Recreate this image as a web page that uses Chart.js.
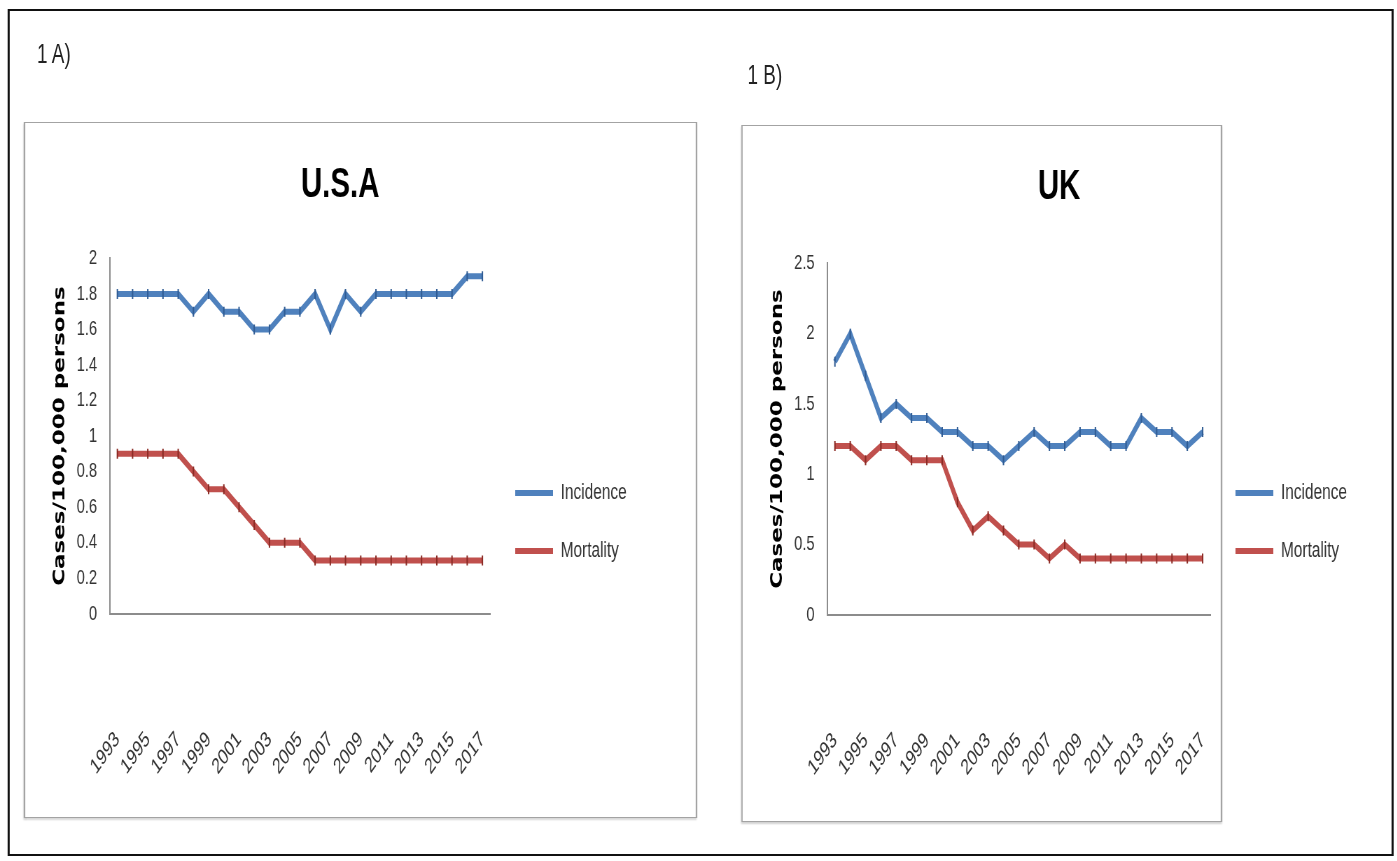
<!DOCTYPE html>
<html>
<head>
<meta charset="utf-8">
<script src="https://cdn.jsdelivr.net/npm/chart.js@4"></script>
<style>
  html, body { margin: 0; padding: 0; background: #fff; overflow: hidden; }
  /* The whole figure is drawn wide and then compressed horizontally. */
  #page { position: absolute; left: 0; top: 0; width: 1996px; height: 861px;
          transform: scaleX(0.7); transform-origin: 0 0; }
  .frame { position: absolute; left: 11px; top: 9px; width: 1974px; height: 843px;
           border-style: solid; border-color: #111; border-width: 2px 3px; }
  .panel { position: absolute; box-sizing: border-box; border-style: solid;
           border-color: #a3a3a3; border-width: 1.5px 2px;
           box-shadow: 0 2px 2px rgba(0,0,0,0.18); }
  #panelA { left: 34px; top: 122px; width: 962px; height: 696px; }
  #panelB { left: 1059px; top: 125px; width: 687px; height: 697px; }
  .tag { position: absolute; font-family: "Liberation Sans Narrow", "Arial Narrow", "Liberation Sans", sans-serif;
         font-size: 27px; line-height: 30px; color: #222; white-space: nowrap; }
  #tagA { left: 53px; top: 39px; }
  #tagB { left: 1068px; top: 60px; }
  canvas { position: absolute; }
  #chartA { left: 34px; top: 122px; }
  #chartB { left: 1059px; top: 125px; }
</style>
</head>
<body>
<div id="page">
  <div class="frame"></div>
  <div class="panel" id="panelA"></div>
  <div class="panel" id="panelB"></div>
  <div class="tag" id="tagA">1 A)</div>
  <div class="tag" id="tagB">1 B)</div>
  <canvas id="chartA" width="906" height="685" style="width:906px;height:685px"></canvas>
  <canvas id="chartB" width="910" height="683" style="width:910px;height:683px"></canvas>
</div>
<script>
// Years on the category axis
const years = ['1993','1994','1995','1996','1997','1998','1999','2000','2001','2002','2003','2004','2005',
               '2006','2007','2008','2009','2010','2011','2012','2013','2014','2015','2016','2017'];

// Cases per 100,000 persons, U.S.A
const usaIncidence = [1.8,1.8,1.8,1.8,1.8,1.7,1.8,1.7,1.7,1.6,1.6,1.7,1.7,1.8,1.6,1.8,1.7,1.8,1.8,1.8,1.8,1.8,1.8,1.9,1.9];
const usaMortality = [0.9,0.9,0.9,0.9,0.9,0.8,0.7,0.7,0.6,0.5,0.4,0.4,0.4,0.3,0.3,0.3,0.3,0.3,0.3,0.3,0.3,0.3,0.3,0.3,0.3];

// Cases per 100,000 persons, UK
const ukIncidence = [1.8,2.0,1.7,1.4,1.5,1.4,1.4,1.3,1.3,1.2,1.2,1.1,1.2,1.3,1.2,1.2,1.3,1.3,1.2,1.2,1.4,1.3,1.3,1.2,1.3];
const ukMortality = [1.2,1.2,1.1,1.2,1.2,1.1,1.1,1.1,0.8,0.6,0.7,0.6,0.5,0.5,0.4,0.5,0.4,0.4,0.4,0.4,0.4,0.4,0.4,0.4,0.4];

const seriesNames = ['Incidence', 'Mortality'];
const yAxisTitle = 'Cases/100,000 persons';

const BLUE = '#4F81BD', BLUE_DARK = '#2F5B93';
const RED = '#C0504D', RED_DARK = '#8A2A24';
const NARROW = '"Liberation Sans Narrow", "Arial Narrow", "Liberation Sans", sans-serif';
const SANS = '"Liberation Sans", Arial, sans-serif';

Chart.defaults.font.family = SANS;
Chart.defaults.color = '#333';

function series(label, data, color, dark) {
  return {
    label, data,
    borderColor: color, backgroundColor: color,
    borderWidth: 6, tension: 0,
    pointStyle: 'line', rotation: 90, pointRadius: 5,
    pointBorderWidth: 2, pointBorderColor: dark, pointBackgroundColor: dark,
    pointHoverRadius: 5
  };
}

// Tick values without trailing zeros: 2, 1.8, 1, 0.5 ...
const plainNumber = (v) => String(Number(v.toFixed(2)));

function makeChart(id, title, incidence, mortality, yMax, yStep, legendOffset, titlePad) {
  return new Chart(document.getElementById(id), {
    type: 'line',
    data: {
      labels: years,
      datasets: [
        series(seriesNames[0], incidence, BLUE, BLUE_DARK),
        series(seriesNames[1], mortality, RED, RED_DARK)
      ]
    },
    options: {
      responsive: false,
      animation: false,
      events: [],
      layout: { padding: { left: 38, right: 40, top: 0, bottom: 24 } },
      plugins: {
        tooltip: { enabled: false },
        title: {
          display: true, text: title, color: '#000',
          font: { family: NARROW, size: 42, weight: 'bold', lineHeight: 1.2 },
          padding: titlePad
        },
        legend: {
          position: 'right', align: 'start', maxWidth: 200,
          title: { display: true, text: '', font: { size: 10, lineHeight: 1.2 },
                   padding: { top: legendOffset, bottom: 0 } },
          labels: {
            font: { family: SANS, size: 22 }, color: '#333',
            boxWidth: 54, boxHeight: 6, padding: 36,
            generateLabels: (chart) => chart.data.datasets.map((ds, i) => ({
              text: ds.label, fillStyle: ds.borderColor, strokeStyle: ds.borderColor,
              lineWidth: 0, hidden: false, datasetIndex: i, fontColor: '#333'
            }))
          }
        }
      },
      scales: {
        x: {
          type: 'category', offset: true,
          // tick marks are hidden; their length only sets the gap above the year labels
          grid: { display: false, drawTicks: true, tickLength: 110 },
          border: { display: true, color: '#8c8c8c', width: 2 },
          ticks: {
            autoSkip: false, minRotation: 45, maxRotation: 45, padding: 3,
            font: { family: SANS, size: 22 }, color: '#333',
            callback: (v, i) => (i % 2 === 0 ? years[i] : '')
          }
        },
        y: {
          min: 0, max: yMax,
          grid: { display: false, drawTicks: true, tickLength: 15 },
          border: { display: true, color: '#8c8c8c', width: 2 },
          ticks: { stepSize: yStep, autoSkip: false, padding: 3,
                   font: { family: SANS, size: 21 }, color: '#333', callback: plainNumber },
          title: {
            display: true, text: yAxisTitle, color: '#000',
            font: { family: '"DejaVu Sans", Verdana, sans-serif', size: 23, weight: 'bold' },
            padding: { top: 0, bottom: 7 }
          }
        }
      }
    }
  });
}

makeChart('chartA', 'U.S.A', usaIncidence, usaMortality, 2, 0.2, 312, { top: 38, bottom: 48 });
makeChart('chartB', 'UK', ukIncidence, ukMortality, 2.5, 0.5, 309, { top: 37, bottom: 51 });
</script>
</body>
</html>
